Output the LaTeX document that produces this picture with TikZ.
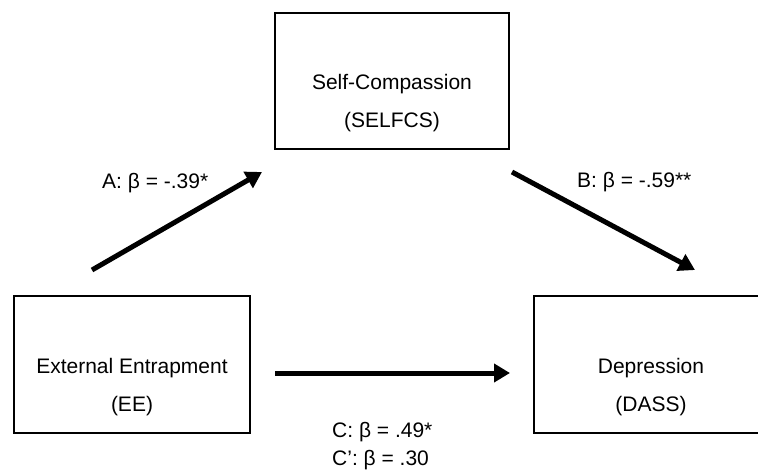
\documentclass[tikz,border=0pt]{standalone}
\usepackage{fontspec}
\setmainfont{Liberation Sans}
\usetikzlibrary{arrows.meta}
\begin{document}
\begin{tikzpicture}[x=1pt,y=-1pt,
  box/.style={draw, line width=1.8pt, inner sep=0pt},
  lbl/.style={font=\fontsize{21}{38}\selectfont, align=center, inner sep=0pt},
  coef/.style={font=\fontsize{21}{28}\selectfont, align=left, inner sep=0pt},
  arr/.style={line width=5pt, -{Triangle[length=16pt,width=18pt]}}]
\useasboundingbox (0,0) rectangle (758,472);
\fill[white] (0,0) rectangle (758,472);
% boxes
\node[box, minimum width=234pt, minimum height=136pt] (self) at (392,81) {};
\node[box, minimum width=236pt, minimum height=137pt] (ee) at (132,364.5) {};
\node[box, minimum width=234pt, minimum height=137pt] (dass) at (651,364.5) {};
% box texts
\node[lbl] (selfT) at (392,103) {Self-Compassion\\(SELFCS)};
\node[lbl] (eeT) at (132,387) {External Entrapment\\(EE)};
\node[lbl] (dassT) at (651,387) {Depression\\(DASS)};
% arrows
\coordinate (aS) at (92,270);
\coordinate (aE) at (262,172);
\coordinate (bS) at (512,172);
\coordinate (bE) at (695,270);
\coordinate (cS) at (275,373);
\coordinate (cE) at (510,373);
\draw[arr] (aS) -- (aE);
\draw[arr] (bS) -- (bE);
\draw[arr] (cS) -- (cE);
% coefficient labels
\node[coef, anchor=west] (aL) at (102,183) {A: β = -.39*};
\node[coef, anchor=west] (bL) at (577,182) {B: β = -.59**};
\node[coef, anchor=west] (cL) at (332,446) {C: β = .49*\\C’: β = .30};
\end{tikzpicture}
\end{document}
